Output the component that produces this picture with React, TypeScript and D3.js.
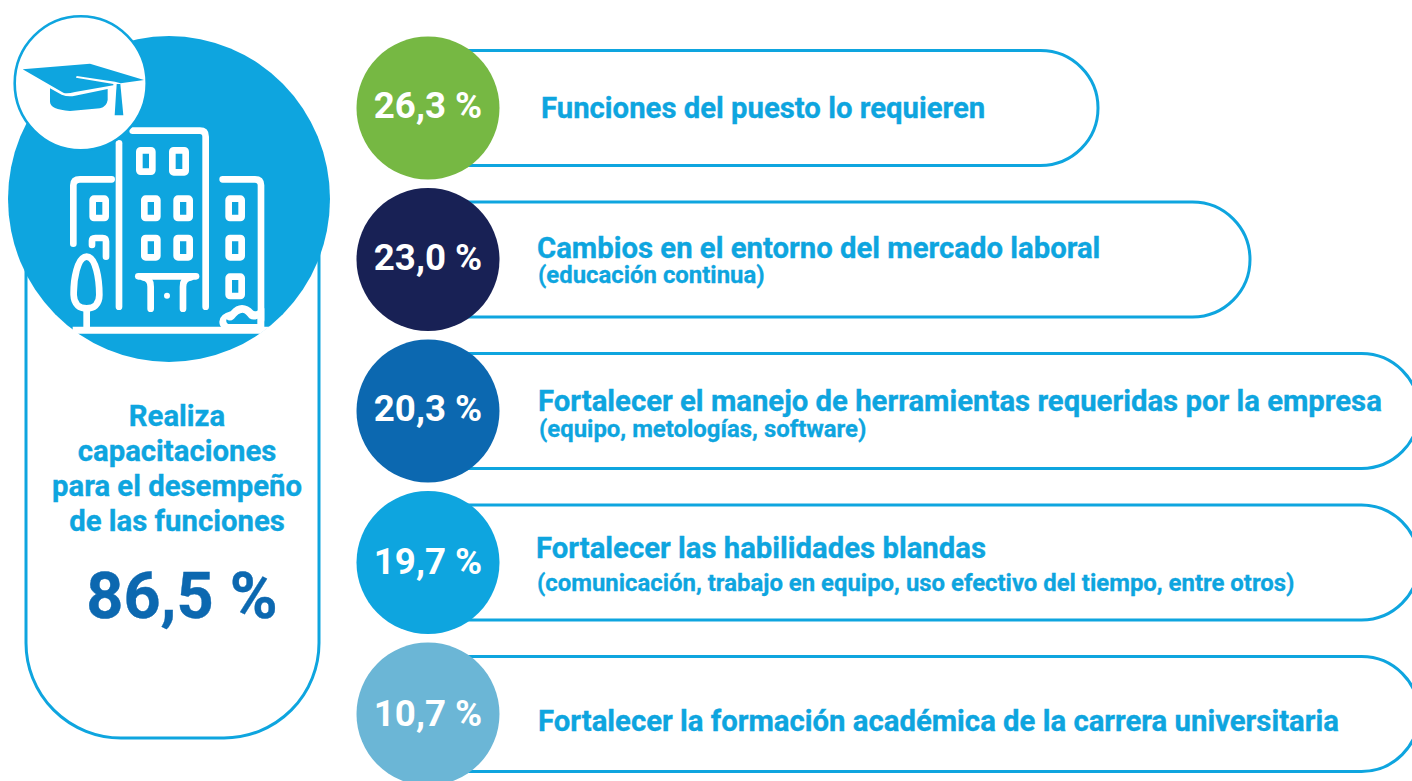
import React from "react";
import * as d3 from "d3";

const categories = [
  "Funciones del puesto lo requieren",
  "Cambios en el entorno del mercado laboral",
  "Fortalecer el manejo de herramientas requeridas por la empresa",
  "Fortalecer las habilidades blandas",
  "Fortalecer la formación académica de la carrera universitaria",
];
const subLabels = [
  "",
  "(educación continua)",
  "(equipo, metologías, software)",
  "(comunicación, trabajo en equipo, uso efectivo del tiempo, entre otros)",
  "",
];
const values = [26.3, 23.0, 20.3, 19.7, 10.7];
const circleColors = ["#76b843", "#182155", "#0c68b0", "#0ea5df", "#6bb6d6"];
const headline = ["Realiza", "capacitaciones", "para el desempeño", "de las funciones"];
const headlineValue = 86.5;

const BLUE = "#0ea5df";
const fmt = (v: number) => v.toFixed(1).replace(".", ",") + " %";
const FONT = "Roboto, sans-serif";

const capsuleEnd = [1098, 1250, 1419, 1419, 1419];
const labelX = [541, 537, 538, 536, 538];
const labelDy = [10, -2, 0, -5, 17];
const subDy = [0, 23, 26, 28, 0];
const numDy = [10, 10, 10, 11, 12];

const rowY = d3.scalePoint<number>().domain(d3.range(5)).range([108, 714]);

function capsule(i: number) {
  const cy = rowY(i)!;
  const r = 57.5;
  const p = d3.path();
  p.moveTo(440, cy - r);
  p.lineTo(capsuleEnd[i] - r, cy - r);
  p.arc(capsuleEnd[i] - r, cy, r, -Math.PI / 2, Math.PI / 2);
  p.lineTo(440, cy + r);
  return p.toString();
}

function leftPanel() {
  const r = 95;
  const x0 = 26;
  const p = d3.path();
  p.moveTo(x0, 240);
  p.lineTo(x0, 738 - r);
  p.arc(x0 + r, 738 - r, r, Math.PI, Math.PI / 2, true);
  p.lineTo(319 - r, 738);
  p.arc(319 - r, 738 - r, r, Math.PI / 2, 0, true);
  p.lineTo(319, 240);
  return p.toString();
}

// outer bounds of the windows, in 3x icon units
const windows = [
  [408, 467, 441, 525], [507, 567, 441, 527],
  [423, 482, 586, 664], [520, 579, 586, 664],
  [423, 482, 704, 782], [520, 579, 704, 782],
  [268, 327, 586, 664],
  [676, 735, 586, 664], [676, 735, 704, 782], [676, 735, 820, 898],
];

const buildingStrokes = [
  "M357 920V430",
  "M398 392H600Q617 392 617 410V920",
  "M220 731V556Q220 538 240 538H335",
  "M668 538H765Q783 538 783 556V960",
  "M276 735V722Q276 714 286 714H308Q318 714 318 724V770",
  "M415 829H588",
  "M430 832Q452 835 452 860V926",
  "M572 832Q549 835 549 860V926",
  "M260 770C232 770 220 840 221 885C222 915 240 925 260 925C280 925 298 915 298 885C298 840 288 770 260 770Z",
  "M260 930V985",
];

export default function App() {
  return (
    <svg
      width={1412}
      height={781}
      viewBox="0 0 1412 781"
      style={{ position: "fixed", left: 0, top: 0, background: "#fff" }}
      fontFamily={FONT}
      fontWeight={700}
    >
      <path d={leftPanel()} fill="none" stroke={BLUE} strokeWidth={3} />
      <ellipse cx={169} cy={199} rx={161} ry={163} fill={BLUE} />

      <g transform="scale(0.33333)">
        <path d="M218 980H808L780 1001H218Z" fill="#fff" />
        <g fill="none" stroke="#fff" strokeWidth={20} strokeLinecap="round" strokeLinejoin="round">
          {buildingStrokes.map((d, i) => (
            <path key={i} d={d} />
          ))}
          {windows.map(([x0, x1, y0, y1], i) => (
            <rect key={i} x={x0 + 10} y={y0 + 10} width={x1 - x0 - 20} height={y1 - y0 - 20} rx={4} />
          ))}
        </g>
        <circle cx={501} cy={887} r={9} fill="#fff" />
        <path
          d="M658 965Q660 942 692 934Q708 915 726 915Q745 916 760 932Q775 938 775 925L793 925V985H670Q658 980 658 965Z"
          fill="#fff"
        />
        <path
          d="M680 958Q690 966 702 956Q715 938 728 938Q738 940 748 955Q760 962 772 956V972H684Q676 966 680 958Z"
          fill={BLUE}
        />
      </g>

      <ellipse cx={80.7} cy={83.2} rx={66} ry={67} fill="#fff" stroke={BLUE} strokeWidth={2.6} />
      <g transform="scale(0.33333)" fill={BLUE}>
        <path d="M68 208L270 191L432 240L362 250L345 245L230 228L228 233L340 252L340 256L225 276Q200 282 190 278Z" />
        <path d="M150 265L185 284Q205 292 225 287L323 267V300Q320 320 300 325L210 333Q150 328 150 305Z" />
        <path d="M350 252L361 252L370 346H344Z" />
      </g>

      {headline.map((t, i) => (
        <text key={t} x={177} y={426 + i * 35} textAnchor="middle" fontSize={29.3} fill={BLUE} stroke={BLUE} strokeWidth={0.35}>
          {t}
        </text>
      ))}
      <text x={182} y={618} textAnchor="middle" fontSize={64.8} fill="#0c68b0" stroke="#0c68b0" strokeWidth={0.4}>
        {fmt(headlineValue)}
      </text>

      {categories.map((c, i) => {
        const cy = rowY(i)!;
        return (
          <g key={c}>
            <path d={capsule(i)} fill="none" stroke={BLUE} strokeWidth={3} />
            <circle cx={428} cy={cy} r={71.5} fill={circleColors[i]} />
            <text x={428} y={cy + numDy[i]} textAnchor="middle" fontSize={36.7} fill="#fff">
              {fmt(values[i])}
            </text>
            <text x={labelX[i]} y={cy + labelDy[i]} fontSize={29.3} fill={BLUE} stroke={BLUE} strokeWidth={0.35}>
              {c}
            </text>
            {subLabels[i] && (
              <text x={labelX[i] + 1} y={cy + subDy[i]} fontSize={23.9} fill={BLUE} stroke={BLUE} strokeWidth={0.3}>
                {subLabels[i]}
              </text>
            )}
          </g>
        );
      })}
    </svg>
  );
}
